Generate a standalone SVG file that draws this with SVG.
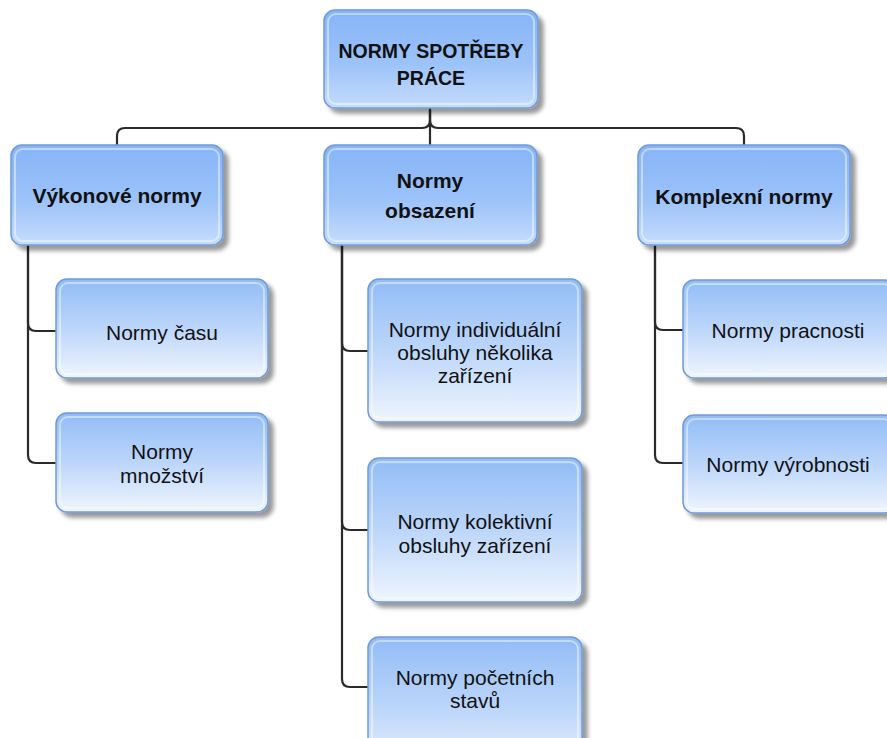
<svg xmlns="http://www.w3.org/2000/svg" width="887" height="738" viewBox="0 0 887 738">
<defs>
<linearGradient id="gTop" x1="0" y1="0" x2="0" y2="1">
<stop offset="0" stop-color="#86b4f7"/>
<stop offset="0.55" stop-color="#9cc3f9"/>
<stop offset="1" stop-color="#c6dcfc"/>
</linearGradient>
<linearGradient id="gChild" x1="0" y1="0" x2="0" y2="1">
<stop offset="0" stop-color="#92bcf6"/>
<stop offset="0.5" stop-color="#bcd6fa"/>
<stop offset="1" stop-color="#eff5fe"/>
</linearGradient>
<filter id="sh" x="-10%" y="-10%" width="130%" height="130%">
<feDropShadow dx="5" dy="5" stdDeviation="2" flood-color="#000" flood-opacity="0.4"/>
</filter>
</defs>
<style>
.box{stroke:#6f9bd8;stroke-width:1.5;filter:url(#sh)}
.top{fill:url(#gTop)}
.child{fill:url(#gChild)}
.bevel{fill:none;stroke:#ffffff;stroke-opacity:0.45;stroke-width:2}
.conn{fill:none;stroke:#2a2a2a;stroke-width:2.2}
text{font-family:"Liberation Sans",Arial,sans-serif;fill:#111;text-anchor:middle}
.b{font-weight:bold;font-size:21px}
.r{font-weight:bold;font-size:19.5px}
.n{font-size:21px}
</style>
<rect width="887" height="738" fill="#ffffff"/>
<g id="connectors">
<path class="conn" d="M430,108 V145"/>
<path class="conn" d="M430,110 V120 Q430,128 422,128 H125 Q117,128 117,136 V145"/>
<path class="conn" d="M430,110 V120 Q430,128 438,128 H736 Q744,128 744,136 V145"/>
<path class="conn" d="M28,245 V323 Q28,331 36,331 H56"/>
<path class="conn" d="M28,245 V455 Q28,463 36,463 H56"/>
<path class="conn" d="M342,245 V343 Q342,351 350,351 H368"/>
<path class="conn" d="M342,245 V522 Q342,530 350,530 H368"/>
<path class="conn" d="M342,245 V679 Q342,687 350,687 H368"/>
<path class="conn" d="M655,245 V322 Q655,330 663,330 H683"/>
<path class="conn" d="M655,245 V455 Q655,463 663,463 H683"/>
</g>
<g id="root">
<rect class="box top" x="324" y="10" width="214" height="98" rx="11"/>
<rect class="bevel" x="328" y="14" width="206" height="90" rx="8"/>
<text class="r" x="431" y="58">NORMY SPOTŘEBY</text>
<text class="r" x="431" y="85">PRÁCE</text>
</g>
<g id="vykonove">
<rect class="box top" x="11" y="145" width="212" height="100" rx="11"/>
<rect class="bevel" x="15" y="149" width="204" height="92" rx="8"/>
<text class="b" x="117" y="203">Výkonové normy</text>
</g>
<g id="obsazeni">
<rect class="box top" x="324" y="145" width="213" height="100" rx="11"/>
<rect class="bevel" x="328" y="149" width="205" height="92" rx="8"/>
<text class="b" x="430" y="188">Normy</text>
<text class="b" x="430" y="218">obsazení</text>
</g>
<g id="komplexni">
<rect class="box top" x="638" y="145" width="212" height="100" rx="11"/>
<rect class="bevel" x="642" y="149" width="204" height="92" rx="8"/>
<text class="b" x="744" y="204">Komplexní normy</text>
</g>
<g id="casu">
<rect class="box child" x="56" y="279" width="212" height="99" rx="11"/>
<rect class="bevel" x="60" y="283" width="204" height="91" rx="8"/>
<text class="n" x="162" y="340">Normy času</text>
</g>
<g id="mnozstvi">
<rect class="box child" x="56" y="413" width="212" height="99" rx="11"/>
<rect class="bevel" x="60" y="417" width="204" height="91" rx="8"/>
<text class="n" x="162" y="459">Normy</text>
<text class="n" x="162" y="483">množství</text>
</g>
<g id="individualni">
<rect class="box child" x="368" y="279" width="214" height="143" rx="11"/>
<rect class="bevel" x="372" y="283" width="206" height="135" rx="8"/>
<text class="n" x="475" y="337">Normy individuální</text>
<text class="n" x="475" y="360">obsluhy několika</text>
<text class="n" x="475" y="383">zařízení</text>
</g>
<g id="kolektivni">
<rect class="box child" x="368" y="458" width="214" height="144" rx="11"/>
<rect class="bevel" x="372" y="462" width="206" height="136" rx="8"/>
<text class="n" x="475" y="529">Normy kolektivní</text>
<text class="n" x="475" y="553">obsluhy zařízení</text>
</g>
<g id="pocetnich">
<rect class="box child" x="368" y="637" width="214" height="143" rx="11"/>
<rect class="bevel" x="372" y="641" width="206" height="135" rx="8"/>
<text class="n" x="475" y="685">Normy početních</text>
<text class="n" x="475" y="708">stavů</text>
</g>
<g id="pracnosti">
<rect class="box child" x="683" y="280" width="212" height="98" rx="11"/>
<rect class="bevel" x="687" y="284" width="204" height="90" rx="8"/>
<text class="n" x="788" y="338">Normy pracnosti</text>
</g>
<g id="vyrobnosti">
<rect class="box child" x="683" y="415" width="212" height="98" rx="11"/>
<rect class="bevel" x="687" y="419" width="204" height="90" rx="8"/>
<text class="n" x="788" y="472">Normy výrobnosti</text>
</g>
</svg>
